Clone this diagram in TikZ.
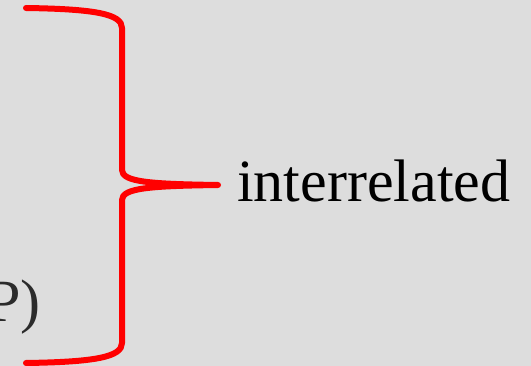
\documentclass[tikz,border=0pt]{standalone}
\usepackage{fontspec}
\setmainfont{Liberation Serif}
\definecolor{bg}{HTML}{DDDDDD}
\definecolor{txtgray}{HTML}{2B2B2B}
\tikzset{
  brace/.style={draw=red, line width=6pt, line cap=round, line join=round},
  lbl/.style={font=\fontsize{60}{62}\selectfont, inner sep=0pt}
}
\begin{document}
\begin{tikzpicture}[x=1pt,y=-1pt]
\fill[bg] (0,0) rectangle (531,366);
\useasboundingbox (0,0) rectangle (531,366);
\begin{scope}
\clip (0,0) rectangle (531,366);
\coordinate (top) at (26,8);
\coordinate (tip) at (218,185);
\coordinate (bot) at (26,363);
\path[brace] (top) .. controls (95,9) and (122,14) .. (122,28) -- (122,170)
  .. controls (122,182) and (150,184) .. (tip)
  .. controls (150,186) and (122,188) .. (122,200) -- (122,343)
  .. controls (122,357) and (95,362) .. (bot);
\node[lbl, anchor=base west] (rel) at (237,202) {interrelated};
\node[lbl, anchor=base east, text=txtgray] (p) at (41,322) {P)};
\end{scope}
\end{tikzpicture}
\end{document}
